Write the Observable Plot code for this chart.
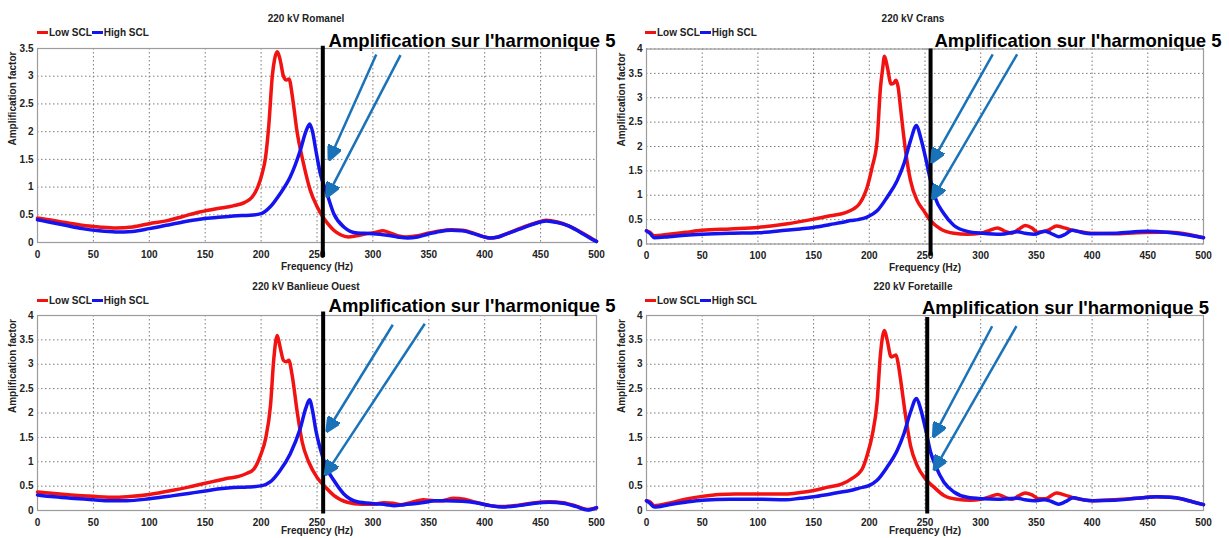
<!DOCTYPE html>
<html><head><meta charset="utf-8">
<script src="https://cdn.jsdelivr.net/npm/d3@7"></script>
<script src="https://cdn.jsdelivr.net/npm/@observablehq/plot@0.6"></script>
<style>
body{margin:0;background:#fff;}
#root{position:relative;width:1229px;height:538px;overflow:hidden;background:#fff;font-family:"Liberation Sans",Arial,sans-serif;}
.panel{position:absolute;}
.panel svg{overflow:visible;}
.title{position:absolute;width:300px;text-align:center;font-weight:bold;font-size:10px;line-height:12px;color:#222;}
.legend{position:absolute;font-weight:bold;font-size:10px;line-height:12px;color:#222;white-space:nowrap;}
.sw{display:inline-block;width:11px;height:3px;vertical-align:middle;margin-right:1px;position:relative;top:-1px;}
</style></head><body><div id="root"></div><script>
// ---------- data ----------
const xTicks = [0, 50, 100, 150, 200, 250, 300, 350, 400, 450, 500];
const yTicks35 = [0, 0.5, 1, 1.5, 2, 2.5, 3, 3.5];
const yTicks4 = [0, 0.5, 1, 1.5, 2, 2.5, 3, 3.5, 4];
const seriesNames = ["Low SCL", "High SCL"];
const panelTitles = ["220 kV Romanel", "220 kV Crans", "220 kV Banlieue Ouest", "220 kV Foretaille"];
const xLabel = "Frequency (Hz)";
const yLabel = "Amplification factor";
const annotationText = "Amplification sur l'harmonique 5";

// Romanel
const romanelLowHz = [0,10,25,40,55,70,85,100,115,130,145,160,175,185,192,197,201,204,207,210,212,214.5,217,220,222.5,225,228,232,238,244,250,255,260,265,271,278,285,295,302,309,316,323,330,340,350,360,370,380,390,398,405,412,420,435,450,455,465,475,485,495,500];
const romanelLowAmp = [0.44,0.41,0.36,0.31,0.28,0.26,0.28,0.34,0.39,0.47,0.55,0.61,0.66,0.72,0.82,1.0,1.25,1.54,2.14,3.0,3.3,3.44,3.3,3.0,2.93,2.95,2.63,2.02,1.42,0.94,0.65,0.47,0.33,0.22,0.14,0.1,0.12,0.16,0.18,0.21,0.17,0.12,0.1,0.12,0.17,0.21,0.23,0.22,0.17,0.11,0.08,0.1,0.16,0.28,0.38,0.4,0.37,0.3,0.2,0.08,0.02];
const romanelHighHz = [0,10,25,40,55,70,85,100,115,130,145,160,175,190,200,208,217,226,235,240,243.5,246,249,253,258,265,274,286,300,313,322,331,340,349,360,370,380,390,398,405,412,420,435,450,455,465,475,485,495,500];
const romanelHighAmp = [0.41,0.37,0.31,0.25,0.21,0.19,0.2,0.25,0.31,0.37,0.42,0.45,0.48,0.49,0.52,0.64,0.88,1.18,1.66,2.0,2.14,2.0,1.66,1.24,0.94,0.52,0.28,0.17,0.16,0.13,0.1,0.08,0.1,0.15,0.2,0.22,0.21,0.16,0.11,0.08,0.1,0.16,0.27,0.37,0.39,0.36,0.3,0.19,0.07,0.02];
// Crans
const cransLowHz = [0,3,7,20,35,50,75,100,125,150,165,178,186,191,195,198,202.6,207,210,212,213.6,216,219.6,222,224,226,228,232.5,237,243,249,255,264,276,288,300,308,315,322,328,334,340,346,351,356,362,368,375,381,390,399,420,440,460,470,480,490,500];
const cransLowAmp = [0.27,0.24,0.17,0.2,0.24,0.28,0.31,0.34,0.41,0.51,0.58,0.64,0.72,0.82,0.98,1.16,1.58,2.12,3.2,3.6,3.85,3.65,3.28,3.3,3.36,3.2,2.8,1.92,1.3,0.89,0.68,0.48,0.31,0.22,0.2,0.22,0.28,0.33,0.26,0.22,0.3,0.38,0.33,0.24,0.25,0.3,0.37,0.33,0.29,0.25,0.22,0.21,0.23,0.24,0.24,0.22,0.18,0.13];
const cransHighHz = [0,3,7,20,35,50,75,100,125,138,150,165,175,183,190,198,207,216,225,231,237,242.4,246,250.4,255,259,267,276,288,302,318,333,340,348,357,363,370,376,382,390,399,422,449,467,485,500];
const cransHighAmp = [0.27,0.22,0.13,0.15,0.18,0.2,0.22,0.23,0.28,0.31,0.34,0.4,0.44,0.48,0.5,0.55,0.68,0.96,1.3,1.64,2.12,2.43,2.19,1.78,1.3,0.96,0.62,0.38,0.26,0.22,0.2,0.25,0.22,0.2,0.26,0.22,0.15,0.2,0.28,0.24,0.21,0.22,0.26,0.24,0.19,0.13];
// Banlieue Ouest
const banlieueLowHz = [0,15,30,50,70,85,100,120,135,150,160,170,180,187,193.5,199.5,204,208.4,211.4,214.4,217,220,222.5,224.8,227.8,232.3,236.8,242.7,250,257.6,265,277,290,300,310,318,325,335,345,355,362,372,382,392,405,415,430,445,458,470,482,492,500];
const banlieueLowAmp = [0.38,0.35,0.32,0.29,0.27,0.29,0.33,0.41,0.48,0.56,0.61,0.66,0.7,0.76,0.85,1.13,1.47,2.15,3.12,3.59,3.35,3.08,3.05,3.08,2.77,2.02,1.4,0.99,0.68,0.48,0.31,0.17,0.13,0.13,0.16,0.15,0.12,0.17,0.22,0.2,0.2,0.25,0.23,0.17,0.1,0.08,0.11,0.16,0.18,0.16,0.09,0.02,0.05];
const banlieueHighHz = [0,15,30,50,65,80,100,120,135,150,161,175,188,201,208.4,217,226,235,240,243.3,246,248.7,253,259,265,274,286,301,312,319,328,337,347,355,365,380,392,405,415,430,445,458,470,482,492,500];
const banlieueHighAmp = [0.32,0.28,0.25,0.22,0.2,0.2,0.24,0.3,0.35,0.4,0.44,0.47,0.48,0.51,0.59,0.82,1.16,1.68,2.1,2.27,2.05,1.68,1.26,0.85,0.62,0.34,0.18,0.14,0.12,0.1,0.12,0.14,0.17,0.2,0.2,0.19,0.16,0.1,0.07,0.1,0.15,0.17,0.15,0.08,0.01,0.06];
// Foretaille
const foretailleLowHz = [0,3,7,20,35,50,65,80,100,125,138,150,163,175,186,190,193.6,198,202.6,207,210,213.6,216,219.6,222,224,226,228,232.5,237,243,250.4,258,267,279,291,300,308,315,322,328,334,340,346,352,358,363,368,375,385,400,420,440,458,470,480,490,500];
const foretailleLowAmp = [0.2,0.18,0.1,0.15,0.23,0.29,0.33,0.34,0.34,0.34,0.37,0.41,0.48,0.54,0.68,0.75,0.85,1.13,1.54,2.22,3.2,3.69,3.5,3.15,3.17,3.19,3.0,2.7,1.95,1.33,0.92,0.65,0.48,0.31,0.23,0.21,0.23,0.28,0.33,0.27,0.23,0.3,0.36,0.32,0.24,0.24,0.3,0.36,0.32,0.25,0.2,0.22,0.25,0.28,0.27,0.24,0.18,0.12];
const foretailleHighHz = [0,3,7,20,35,50,75,100,125,138,150,163,175,183,191,199.6,207,216,225,231,237,242.4,246,250.4,255,259.4,267,276,288,302.6,315,324,333,340,348,357,363,370,376,383,392,400,420,440,458,470,480,490,500];
const foretailleHighAmp = [0.2,0.15,0.07,0.12,0.17,0.21,0.23,0.23,0.22,0.25,0.28,0.33,0.38,0.41,0.46,0.51,0.62,0.89,1.23,1.57,2.02,2.3,2.09,1.68,1.2,0.92,0.58,0.38,0.27,0.24,0.23,0.24,0.25,0.22,0.2,0.22,0.19,0.13,0.18,0.26,0.22,0.2,0.21,0.25,0.28,0.27,0.24,0.18,0.12];

// annotations (data units)
const harmonicHz = [255.2, 255, 255.5, 252];
const ruleLowAmp = [-0.27, -0.25, -0.07, -0.07];
const ruleHighAmp = [3.54, 4.0, 4.07, 3.96];
const textHz = [260.3, 258.5, 260.3, 247.3];
const textAmp = [3.52, 4.04, 4.07, 4.04];
const arrowFromHz = [[303, 324.7], [310.8, 332.7], [317.8, 346.4], [310.3, 332.1]];
const arrowFromAmp = [[3.39, 3.38], [3.89, 3.89], [3.81, 3.83], [3.78, 3.78]];
const arrowToHz = [[260.6, 258.5], [255.8, 256.4], [258.5, 257], [257.3, 257.9]];
const arrowToAmp = [[1.48, 0.81], [1.66, 0.91], [1.61, 0.72], [1.5, 0.82]];

// ---------- styles / layout ----------
const colors = ["#f21212", "#1414f0"];
const arrowColor = "#1a72b8";
const layouts = [
  {left: 0, top: 0, width: 612, height: 270, mL: 37, mR: 16, mT: 48, mB: 28, yMax: 3.5, yTicks: yTicks35, titleX: 306, titleY: 19, legX: 37, legY: 33, xlabDy: 24},
  {left: 612, top: 0, width: 617, height: 270, mL: 34, mR: 26, mT: 48.5, mB: 26.5, yMax: 4, yTicks: yTicks4, titleX: 913, titleY: 19, legX: 645, legY: 33, xlabDy: 24},
  {left: 0, top: 270, width: 612, height: 268, mL: 37, mR: 16, mT: 45, mB: 28, yMax: 4, yTicks: yTicks4, titleX: 306, titleY: 287, legX: 37, legY: 301, xlabDy: 20.5},
  {left: 612, top: 270, width: 617, height: 268, mL: 34, mR: 26, mT: 45, mB: 28, yMax: 4, yTicks: yTicks4, titleX: 913, titleY: 287, legX: 645, legY: 301, xlabDy: 20.5}
];
const seriesData = [
  [[romanelLowHz, romanelLowAmp], [romanelHighHz, romanelHighAmp]],
  [[cransLowHz, cransLowAmp], [cransHighHz, cransHighAmp]],
  [[banlieueLowHz, banlieueLowAmp], [banlieueHighHz, banlieueHighAmp]],
  [[foretailleLowHz, foretailleLowAmp], [foretailleHighHz, foretailleHighAmp]]
];

function headMarker(color) {
  const ns = "http://www.w3.org/2000/svg";
  const m = document.createElementNS(ns, "marker");
  m.setAttribute("viewBox", "-15 -7 15 14");
  m.setAttribute("markerWidth", 15);
  m.setAttribute("markerHeight", 14);
  m.setAttribute("markerUnits", "userSpaceOnUse");
  m.setAttribute("orient", "auto");
  m.setAttribute("refX", 0);
  m.setAttribute("refY", 0);
  const p = document.createElementNS(ns, "path");
  p.setAttribute("d", "M0,0L-15,-7L-15,7Z");
  p.setAttribute("fill", color);
  m.appendChild(p);
  return m;
}

const root = document.getElementById("root");
layouts.forEach((L, k) => {
  const rows = [];
  seriesData[k].forEach(([hz, amp], s) => hz.forEach((h, i) => rows.push({hz: h, amp: amp[i], series: seriesNames[s]})));
  const arrows = arrowFromHz[k].map((h, j) => ({x1: h, y1: arrowFromAmp[k][j], x2: arrowToHz[k][j], y2: arrowToAmp[k][j]}));
  const chart = Plot.plot({
    width: L.width, height: L.height,
    marginLeft: L.mL, marginRight: L.mR, marginTop: L.mT, marginBottom: L.mB,
    style: {fontFamily: "'Liberation Sans', Arial, sans-serif", fontSize: "10px", fontWeight: "bold", color: "#222", background: "transparent", overflow: "visible"},
    x: {domain: [0, 500]},
    y: {domain: [0, L.yMax]},
    color: {domain: seriesNames, range: colors},
    marks: [
      Plot.gridX({ticks: xTicks, stroke: "#7a7a7a", strokeOpacity: 1, strokeDasharray: "1.5,2.5"}),
      Plot.gridY({ticks: L.yTicks, stroke: "#7a7a7a", strokeOpacity: 1, strokeDasharray: "1.5,2.5"}),
      Plot.frame({stroke: "#9c9c9c", strokeWidth: 1.2}),
      Plot.axisX({ticks: xTicks, tickSize: 0, tickPadding: 8, tickFormat: d => String(d), label: null}),
      Plot.axisY({ticks: L.yTicks, tickSize: 0, tickPadding: 4, tickFormat: d => String(d), label: null}),
      Plot.text([xLabel], {text: d => d, frameAnchor: "bottom", dy: L.xlabDy, lineAnchor: "middle"}),
      Plot.text([yLabel], {text: d => d, frameAnchor: "left", dx: -25, rotate: -90, lineAnchor: "middle"}),
      Plot.line(rows, {x: "hz", y: "amp", z: "series", stroke: "series", strokeWidth: 3.5, curve: "monotone-x"}),
      Plot.ruleX([{x: harmonicHz[k], y1: ruleLowAmp[k], y2: ruleHighAmp[k]}], {x: "x", y1: "y1", y2: "y2", stroke: "#000", strokeWidth: 4}),
      Plot.text([{x: textHz[k], y: textAmp[k]}], {x: "x", y: "y", text: () => annotationText, textAnchor: "start", lineAnchor: "bottom", fontSize: 18.5, fontWeight: "bold", fill: "#000"}),
      Plot.link(arrows, {x1: "x1", y1: "y1", x2: "x2", y2: "y2", stroke: arrowColor, strokeWidth: 2.5, markerEnd: headMarker})
    ]
  });
  const wrap = document.createElement("div");
  wrap.className = "panel";
  wrap.style.left = L.left + "px";
  wrap.style.top = L.top + "px";
  wrap.appendChild(chart);
  root.appendChild(wrap);

  const t = document.createElement("div");
  t.className = "title";
  t.style.left = (L.titleX - 150) + "px";
  t.style.top = (L.titleY - 6) + "px";
  t.textContent = panelTitles[k];
  root.appendChild(t);

  const lg = document.createElement("div");
  lg.className = "legend";
  lg.style.left = L.legX + "px";
  lg.style.top = (L.legY - 6) + "px";
  seriesNames.forEach((n, s) => {
    const sw = document.createElement("span");
    sw.className = "sw";
    sw.style.background = colors[s];
    lg.appendChild(sw);
    lg.appendChild(document.createTextNode(n));
  });
  root.appendChild(lg);
});
</script></body></html>
